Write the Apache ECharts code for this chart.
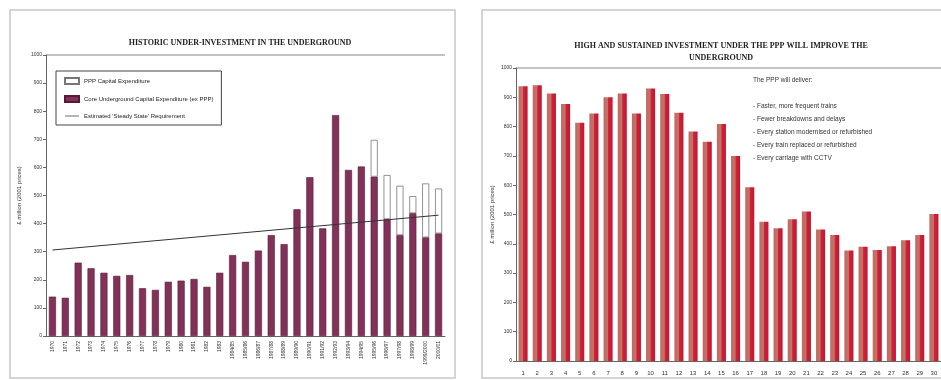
<!DOCTYPE html>
<html>
<head>
<meta charset="utf-8">
<script src="https://cdn.jsdelivr.net/npm/echarts@6/dist/echarts.min.js"></script>
<style>
  html, body { margin: 0; padding: 0; background: #fff; }
  #chart { width: 941px; height: 380px; }
</style>
</head>
<body>
<div id="chart"></div>
<script>
// left chart: historic spend, 1970 .. 2000/01
const years = ['1970', '1971', '1972', '1973', '1974', '1975', '1976', '1977', '1978', '1979', '1980', '1981', '1982', '1983',
  '1984/85', '1985/86', '1986/87', '1987/88', '1988/89', '1989/90', '1990/91', '1991/92', '1992/93', '1993/94',
  '1994/95', '1995/96', '1996/97', '1997/98', '1998/99', '1999/2000', '2000/01']
const coreSpend = [140, 136, 261, 241, 225, 214, 217, 170, 164, 193, 197, 203, 175, 225,
  288, 264, 304, 359, 327, 451, 565, 383, 786, 591, 603, 567, 416, 359, 437, 351, 365]
const pppSpend = [null, null, null, null, null, null, null, null, null, null, null, null, null, null,
  null, null, null, null, null, null, null, null, null, null, null, 131, 157, 176, 61, 192, 160]
// steady state line, only end points known
const steadyState = [306, null, null, null, null, null, null, null, null, null, null, null, null, null,
  null, null, null, null, null, null, null, null, null, null, null, null, null, null, null, null, 430]

// right chart: planned spend under the PPP, years 1..30
const pppYears = ['1', '2', '3', '4', '5', '6', '7', '8', '9', '10', '11', '12', '13', '14', '15',
  '16', '17', '18', '19', '20', '21', '22', '23', '24', '25', '26', '27', '28', '29', '30']
const pppPlan = [938, 941, 913, 877, 813, 845, 900, 913, 845, 930, 911, 847, 783, 748, 809,
  700, 593, 475, 453, 484, 510, 449, 430, 377, 390, 379, 392, 412, 430, 502]

const deliverList = [
  'The PPP will deliver:',
  '',
  '- Faster, more frequent trains',
  '- Fewer breakdowns and delays',
  '- Every station modernised or refurbished',
  '- Every train replaced or refurbished',
  '- Every carriage with CCTV'
]

const chart = echarts.init(document.getElementById('chart'))

const sans = 'Liberation Sans'
const serif = 'Liberation Serif'

function valueAxis(idx, gap) {
  return {
    type: 'value',
    gridIndex: idx,
    min: 0,
    max: 1000,
    interval: 100,
    name: '£ million (2001 prices)',
    nameLocation: 'middle',
    nameRotate: 90,
    nameGap: gap,
    nameTextStyle: { fontSize: 6, color: '#333', fontFamily: sans },
    axisLine: { show: true, lineStyle: { color: '#666', width: 1 } },
    axisTick: { show: true, length: 3, lineStyle: { color: '#666' } },
    axisLabel: { fontSize: 5, color: '#333', margin: 4, fontFamily: sans, formatter: v => String(v) },
    splitLine: { show: false }
  }
}

const rightBarColor = new echarts.graphic.LinearGradient(0, 0, 1, 0, [
  { offset: 0, color: '#bf6a60' },
  { offset: 0.45, color: '#c4736a' },
  { offset: 0.55, color: '#d02238' },
  { offset: 1, color: '#c01830' }
])

chart.setOption({
  animation: false,
  title: [{
    text: 'HISTORIC UNDER-INVESTMENT IN THE UNDERGROUND',
    left: 235,
    textAlign: 'center',
    top: 34,
    textStyle: { fontSize: 8, fontWeight: 'bold', fontFamily: serif, color: '#222' }
  }, {
    text: 'HIGH AND SUSTAINED INVESTMENT UNDER THE PPP WILL IMPROVE THE\nUNDERGROUND',
    left: 716,
    textAlign: 'center',
    top: 35,
    textStyle: { fontSize: 8, fontWeight: 'bold', fontFamily: serif, color: '#222', lineHeight: 12 }
  }],
  legend: {
    left: 56,
    top: 71,
    orient: 'vertical',
    padding: [6, 8],
    itemGap: 10,
    itemWidth: 14,
    itemHeight: 6,
    borderColor: '#444',
    borderWidth: 1,
    backgroundColor: '#fff',
    textStyle: { fontSize: 6, color: '#222', fontFamily: sans },
    data: [
      { name: 'PPP Capital Expenditure', icon: 'rect' },
      { name: 'Core Underground Capital Expenditure (ex PPP)', icon: 'rect' },
      { name: "Estimated 'Steady State' Requirement", icon: 'path://M0,0 L20,0 L20,1 L0,1 Z' }
    ]
  },
  grid: [
    { left: 46, top: 55, width: 399, height: 281 },
    { left: 516, top: 68, width: 427, height: 293 }
  ],
  xAxis: [{
    type: 'category',
    gridIndex: 0,
    data: years,
    axisLine: { lineStyle: { color: '#666' } },
    axisTick: { show: false },
    axisLabel: { rotate: 90, interval: 0, fontSize: 5, color: '#333', margin: 5, fontFamily: sans }
  }, {
    type: 'category',
    gridIndex: 1,
    data: pppYears,
    axisLine: { lineStyle: { color: '#666' } },
    axisTick: { show: false },
    axisLabel: { interval: 0, fontSize: 6, color: '#333', margin: 9, fontFamily: sans }
  }],
  yAxis: [valueAxis(0, 24), valueAxis(1, 21)],
  series: [{
    name: 'Core Underground Capital Expenditure (ex PPP)',
    type: 'bar',
    xAxisIndex: 0,
    yAxisIndex: 0,
    stack: 'spend',
    barWidth: '55%',
    data: coreSpend,
    itemStyle: { color: '#823258', borderColor: '#571a36', borderWidth: 0.6 }
  }, {
    name: 'PPP Capital Expenditure',
    type: 'bar',
    xAxisIndex: 0,
    yAxisIndex: 0,
    stack: 'spend',
    barWidth: '55%',
    data: pppSpend,
    itemStyle: { color: '#fff', borderColor: '#777', borderWidth: 0.8 }
  }, {
    name: "Estimated 'Steady State' Requirement",
    type: 'line',
    xAxisIndex: 0,
    yAxisIndex: 0,
    data: steadyState,
    connectNulls: true,
    symbol: 'none',
    lineStyle: { color: '#333', width: 1 },
    itemStyle: { color: '#333' },
    z: 5
  }, {
    name: 'PPP plan',
    type: 'bar',
    xAxisIndex: 1,
    yAxisIndex: 1,
    barWidth: '64%',
    data: pppPlan,
    itemStyle: { color: rightBarColor }
  }],
  graphic: [
    // panel frames
    { type: 'rect', shape: { x: 10, y: 10, width: 445, height: 368 }, style: { fill: 'none', stroke: '#c8c8c8', lineWidth: 1.5 }, silent: true },
    { type: 'rect', shape: { x: 482, y: 10, width: 470, height: 368 }, style: { fill: 'none', stroke: '#c8c8c8', lineWidth: 1.5 }, silent: true },
    // plot area top edges
    { type: 'line', shape: { x1: 46, y1: 55, x2: 445, y2: 55 }, style: { stroke: '#888', lineWidth: 1 }, silent: true },
    { type: 'line', shape: { x1: 516, y1: 68, x2: 941, y2: 68 }, style: { stroke: '#888', lineWidth: 1 }, silent: true },
    {
      type: 'text',
      left: 753,
      top: 74,
      silent: true,
      style: {
        text: deliverList.join('\n'),
        fontSize: 6.5,
        lineHeight: 13,
        fill: '#333',
        fontFamily: sans
      }
    }
  ]
})
</script>
</body>
</html>
